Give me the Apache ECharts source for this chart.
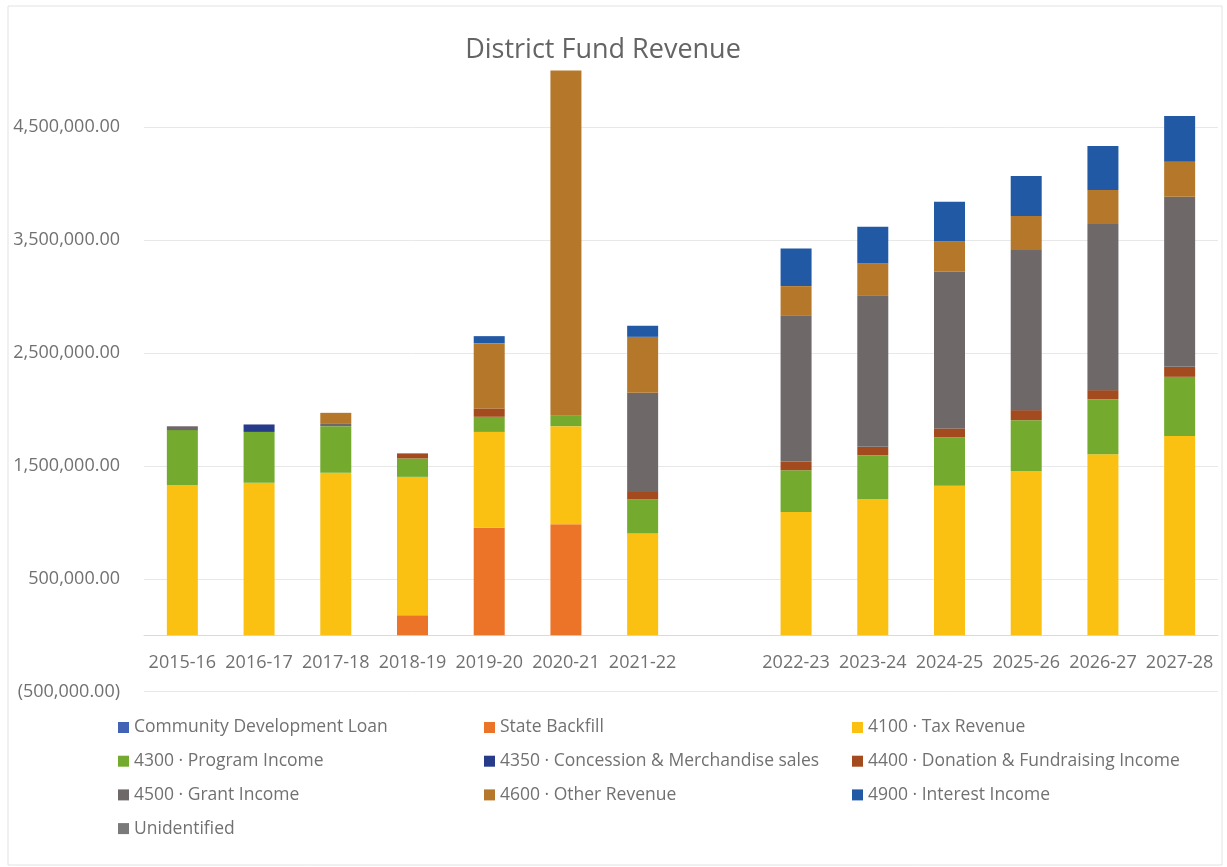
<!DOCTYPE html>
<html>
<head>
<meta charset="utf-8">
<title>District Fund Revenue</title>
<script src="https://cdn.jsdelivr.net/npm/echarts@6/dist/echarts.min.js"></script>
<style>
  html, body { margin: 0; padding: 0; background: #ffffff; }
  #chart { width: 1227px; height: 867px; }
</style>
</head>
<body>
<div id="chart"></div>
<script>
// Fiscal years; the blank entry leaves a gap between actuals and projections
const years = ['2015-16', '2016-17', '2017-18', '2018-19', '2019-20', '2020-21', '2021-22', '',
  '2022-23', '2023-24', '2024-25', '2025-26', '2026-27', '2027-28'];

// Revenue by account, one value per fiscal year
const communityDevelopmentLoan = [0, 0, 0, 0, 0, 0, 0, null, 0, 0, 0, 0, 0, 0];
const stateBackfill = [0, 0, 0, 177000, 951000, 983000, 0, null, 0, 0, 0, 0, 0, 0];
const taxRevenue = [1330000, 1349000, 1438000, 1225000, 849000, 868000, 901000, null,
  1092000, 1205000, 1323000, 1455000, 1603000, 1765000];
const programIncome = [486000, 451000, 413000, 163000, 134000, 98000, 301000, null,
  369000, 389000, 428000, 449000, 485000, 523000];
const concessionSales = [0, 66000, 0, 0, 0, 0, 0, null, 0, 0, 0, 0, 0, 0];
const donationIncome = [0, 0, 0, 45000, 74000, 0, 67000, null,
  74000, 74000, 80000, 89000, 82000, 88000];
const grantIncome = [34000, 0, 20000, 0, 0, 0, 877000, null,
  1299000, 1343000, 1387000, 1417000, 1470000, 1506000];
const otherRevenue = [0, 0, 98000, 0, 576000, 3051000, 496000, null,
  257000, 281000, 272000, 301000, 301000, 310000];
const interestIncome = [0, 0, 0, 0, 64000, 0, 98000, null,
  334000, 325000, 347000, 355000, 390000, 405000];
const unidentified = [0, 0, 0, 0, 0, 0, 0, null, 0, 0, 0, 0, 0, 0];

const seriesNames = [
  'Community Development Loan', 'State Backfill', '4100 · Tax Revenue',
  '4300 · Program Income', '4350 · Concession & Merchandise sales',
  '4400 · Donation & Fundraising Income', '4500 · Grant Income',
  '4600 · Other Revenue', '4900 · Interest Income', 'Unidentified'
];
const seriesData = [
  communityDevelopmentLoan, stateBackfill, taxRevenue, programIncome, concessionSales,
  donationIncome, grantIncome, otherRevenue, interestIncome, unidentified
];
const seriesColors = [
  '#4262B3', '#EC7429', '#FBC112', '#74AB2E', '#263C8A',
  '#A34A1E', '#6E6869', '#B5782A', '#2159A5', '#7A7A7A'
];

const FONT = '"Open Sans", "Noto Sans", sans-serif';
const TEXT_GRAY = '#717171';

// Y range and plot box; the category axis sits on the zero line
const Y_MIN = -500000;
const Y_MAX = 5000000;
const GRID_TOP = 70.5;
const GRID_BOTTOM = 175.3;
const PLOT_HEIGHT = 867 - GRID_TOP - GRID_BOTTOM;
const zeroOffset = PLOT_HEIGHT * (0 - Y_MIN) / (Y_MAX - Y_MIN);

function formatMoney(v) {
  const s = Math.abs(v).toLocaleString('en-US', { minimumFractionDigits: 2, maximumFractionDigits: 2 });
  return v < 0 ? '(' + s + ')' : s;
}

const chart = echarts.init(document.getElementById('chart'), null, { renderer: 'canvas' });

const legendBase = {
  orient: 'vertical',
  top: 713.5,
  itemWidth: 11,
  itemHeight: 11,
  itemGap: 15.7,
  icon: 'rect',
  textStyle: { fontFamily: FONT, fontSize: 17.5, color: TEXT_GRAY },
  selectedMode: false
};

chart.setOption({
  backgroundColor: '#ffffff',
  animation: false,
  title: {
    text: 'District Fund Revenue',
    left: 598,
    textAlign: 'center',
    top: 32,
    textStyle: { fontFamily: FONT, fontSize: 27, fontWeight: 'normal', color: '#646464' }
  },
  graphic: [{
    type: 'rect',
    shape: { x: 8, y: 6, width: 1214, height: 859 },
    style: { fill: 'none', stroke: '#e2e2e2', lineWidth: 1 },
    silent: true
  }],
  legend: [
    Object.assign({}, legendBase, { left: 113, data: [seriesNames[0], seriesNames[3], seriesNames[6], seriesNames[9]] }),
    Object.assign({}, legendBase, { left: 479, data: [seriesNames[1], seriesNames[4], seriesNames[7]] }),
    Object.assign({}, legendBase, { left: 847, data: [seriesNames[2], seriesNames[5], seriesNames[8]] })
  ],
  grid: { left: 144, right: 9, top: GRID_TOP, bottom: GRID_BOTTOM, containLabel: false },
  xAxis: {
    type: 'category',
    data: years,
    offset: -zeroOffset,
    axisTick: { show: false },
    axisLine: { show: true, onZero: false, lineStyle: { color: '#dadada', width: 1 } },
    axisLabel: { fontFamily: FONT, fontSize: 18, color: TEXT_GRAY, margin: 18.5, interval: 0 }
  },
  yAxis: {
    type: 'value',
    min: Y_MIN,
    max: Y_MAX,
    interval: 500000,
    axisLine: { show: false },
    axisTick: { show: false },
    axisLabel: {
      fontFamily: FONT, fontSize: 18, color: TEXT_GRAY, margin: 24,
      formatter: function (v) {
        return (Math.round(v / 500000) % 2 !== 0) ? formatMoney(v) : '';
      }
    },
    splitLine: {
      show: true,
      lineStyle: { color: ['#e8e8e8', 'rgba(0,0,0,0)'], width: 1 }
    }
  },
  series: seriesNames.map(function (name, i) {
    return {
      name: name,
      type: 'bar',
      stack: 'revenue',
      barWidth: 31,
      data: seriesData[i],
      itemStyle: { color: seriesColors[i] },
      emphasis: { disabled: true }
    };
  })
});
</script>
</body>
</html>
